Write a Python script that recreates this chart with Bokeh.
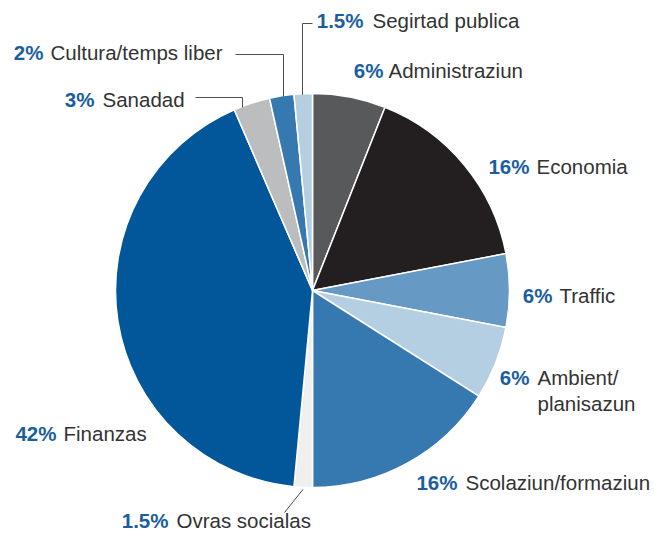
import numpy as np
from bokeh.plotting import figure
from bokeh.models import Range1d, ColumnDataSource
from bokeh.embed import file_html
from bokeh.resources import INLINE
from bokeh.core.properties import value

# ---- data (clockwise from 12 o'clock) ----
categories = ["Administraziun", "Economia", "Traffic", "Ambient/\nplanisazun",
              "Scolaziun/formaziun", "Ovras socialas", "Finanzas", "Sanadad",
              "Cultura/temps liber", "Segirtad publica"]
values = [6, 16, 6, 6, 16, 1.5, 42, 3, 2, 1.5]
pct_labels = ["6%", "16%", "6%", "6%", "16%", "1.5%", "42%", "3%", "2%", "1.5%"]
colors = ["#58595b", "#231f20", "#6699c3", "#b4cee2", "#3679b1",
          "#efefef", "#02569a", "#bcbdbf", "#3679b1", "#b4cee2"]

# ---- layout (page pixels) ----
W, H = 654, 534
CX, CY, R = 312, 290, 197
FONT = "Liberation Sans"
FS = "20.5px"
PCT_COLOR = "#1b5e9f"
TXT_COLOR = "#333333"
TEXT_SHIFT = 8  # renderer places the alphabetic baseline lower than requested

# pct right edge x, label left x, baseline y
label_pos = {
    "Administraziun": (383, 388, 78),
    "Economia": (529, 536, 174),
    "Traffic": (552, 559, 303),
    "Ambient/\nplanisazun": (529, 537, 385),
    "Scolaziun/formaziun": (457, 465, 490),
    "Ovras socialas": (168, 176, 528),
    "Finanzas": (56, 63, 441),
    "Sanadad": (94, 102, 107),
    "Cultura/temps liber": (43, 50, 60),
    "Segirtad publica": (363, 372, 28),
}
LINE_H = 26


def Y(py):
    return H - py


p = figure(width=W, height=H, output_backend="svg", toolbar_location=None,
           x_range=Range1d(0, W), y_range=Range1d(0, H), min_border=0)
p.axis.visible = False
p.grid.visible = False
p.outline_line_color = None
p.background_fill_color = "white"
p.border_fill_color = "white"

# ---- pie ----
vals = np.array(values, dtype=float)
frac = vals / vals.sum()
cum_after = np.cumsum(frac)
cum_before = cum_after - frac
start = np.pi / 2 - 2 * np.pi * cum_after
end = np.pi / 2 - 2 * np.pi * cum_before
src = ColumnDataSource(dict(start=start, end=end, color=colors))
p.wedge(x=CX, y=Y(CY), radius=R, start_angle="start", end_angle="end",
        fill_color="color", line_color="white", line_width=1.5, source=src)

# ---- leader lines ----
def edge_y(x):
    return CY - np.sqrt(R ** 2 - (x - CX) ** 2) + 1

# (horizontal start x, vertical x, horizontal y)
upper_leaders = {"Segirtad publica": (312, 302, 23),
                 "Cultura/temps liber": (235, 283, 54),
                 "Sanadad": (195, 242, 97)}
lx, ly = [], []
for name, (hx0, vx, hy) in upper_leaders.items():
    lx.append([hx0, vx, vx])
    ly.append([Y(hy), Y(hy), Y(edge_y(vx))])
# Ovras socialas: from the slice's mid point on the rim outward
i = categories.index("Ovras socialas")
mid = np.pi / 2 - 2 * np.pi * (cum_before[i] + frac[i] / 2)
ax, ay = CX + (R + 2) * np.cos(mid), CY - (R + 2) * np.sin(mid)
lx.append([ax, 284])
ly.append([Y(ay), Y(512)])
p.multi_line(xs=lx, ys=ly, line_color="#4d4d4d", line_width=1)

# ---- labels ----
px_, py_, pt_ = [], [], []
tx_, ty_, tt_ = [], [], []
for cat, pct in zip(categories, pct_labels):
    pr, tl, base = label_pos[cat]
    base = base - TEXT_SHIFT
    px_.append(pr); py_.append(Y(base)); pt_.append(pct)
    for k, line in enumerate(cat.split("\n")):
        tx_.append(tl); ty_.append(Y(base + k * LINE_H)); tt_.append(line)

p.text(x=px_, y=py_, text=pt_, text_align="right", text_baseline="alphabetic",
       text_font=value(FONT), text_font_size=FS, text_font_style="bold",
       text_color=PCT_COLOR)
p.text(x=tx_, y=ty_, text=tt_, text_align="left", text_baseline="alphabetic",
       text_font=value(FONT), text_font_size=FS, text_color=TXT_COLOR)

open("out.html", "w").write(file_html(p, INLINE))
